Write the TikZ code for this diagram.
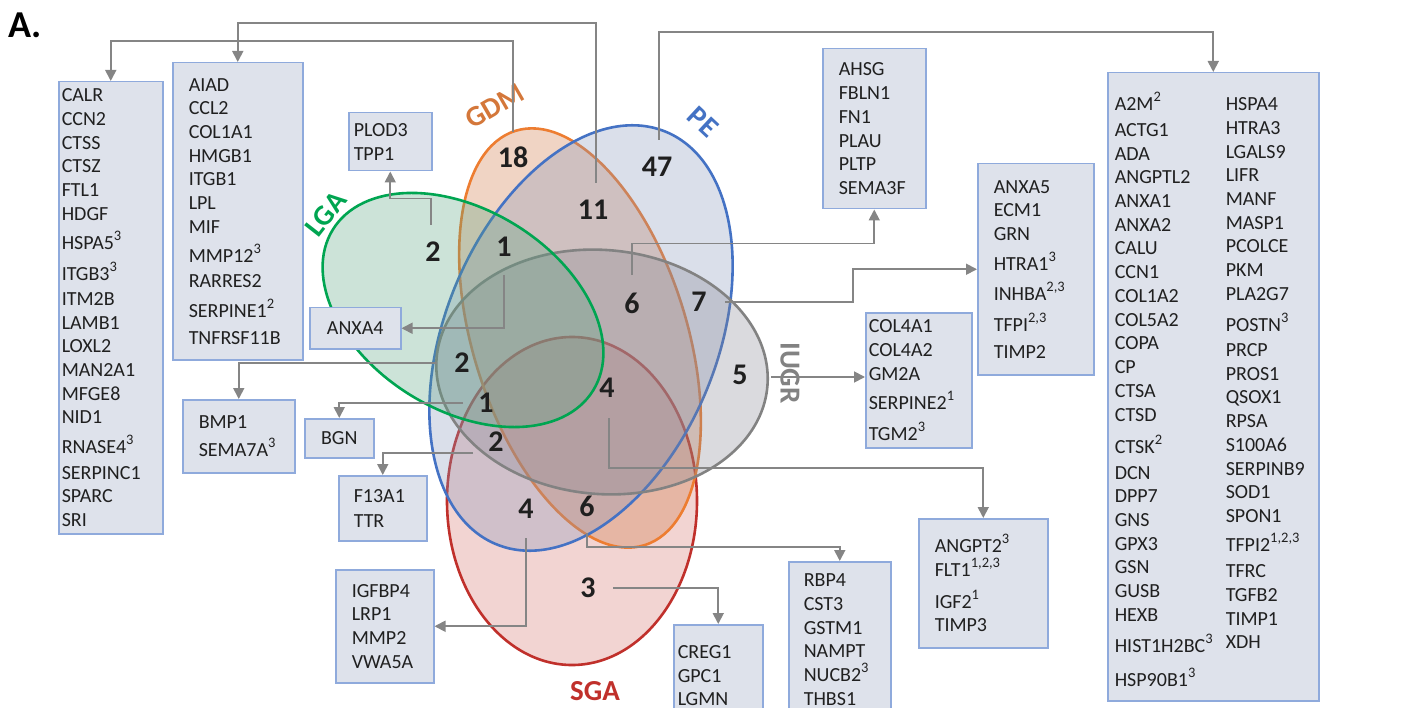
\documentclass[tikz,border=0pt]{standalone}
\usepackage{fontspec}
\setmainfont{Carlito}
\usepackage{xcolor}
\usepackage{tikz}
\usetikzlibrary{arrows.meta}

\definecolor{boxfill}{HTML}{DEE2EB}
\definecolor{boxline}{HTML}{8FAADC}
\definecolor{connline}{HTML}{858585}
\definecolor{genetext}{HTML}{202020}
\definecolor{lgagreen}{HTML}{00A551}
\definecolor{lgafill}{HTML}{57A37F}
\definecolor{gdmorange}{HTML}{ED7D31}
\definecolor{gdmfill}{HTML}{CD703A}
\definecolor{gdmtext}{HTML}{D4773A}
\definecolor{peblue}{HTML}{4472C4}
\definecolor{pefill}{HTML}{8494B9}
\definecolor{iugrgray}{HTML}{828282}
\definecolor{iugrfill}{HTML}{848491}
\definecolor{sgared}{HTML}{C0302B}
\definecolor{sgafill}{HTML}{D4706A}

\newcommand{\gsup}[1]{\raisebox{9pt}{\fontsize{14.5}{15}\selectfont #1}}
\newcommand{\genefont}{\fontsize{20}{23.7}\selectfont}

\begin{document}
\begin{tikzpicture}[
  x=1pt, y=-1pt,
  genebox/.style={draw=boxline, line width=1.5pt, fill=boxfill, anchor=north west,
                  align=left, inner ysep=0pt, text=genetext, font=\genefont},
  regnum/.style={inner sep=0pt, text=black!88, font=\fontsize{30}{32}\selectfont\bfseries},
  setlabel/.style={inner sep=0pt, font=\fontsize{29}{31}\selectfont\bfseries},
  venn/.style={line width=2.6pt, fill opacity=0.3},
  arrow/.style={draw=connline, line width=1.8pt, -{Triangle[length=11pt, width=11pt]}}
]
\useasboundingbox (0,0) rectangle (1404,708);

% panel letter
\node[inner sep=0pt, font=\fontsize{38}{40}\selectfont\bfseries] (panel) at (25,25) {A.};

% venn sets
\draw[venn, draw=sgared, fill=sgafill] (572,501) ellipse [x radius=125pt, y radius=164pt];
\draw[venn, draw=gdmorange, fill=gdmfill, rotate around={-72.7:(580,338)}] (580,338) ellipse [x radius=217pt, y radius=107pt];
\draw[venn, draw=peblue, fill=pefill, rotate around={67.7:(581,338)}] (581,338) ellipse [x radius=223pt, y radius=136pt];
\draw[venn, draw=iugrgray, fill=iugrfill, rotate around={-5:(602,372)}] (602,372) ellipse [x radius=166pt, y radius=122pt];
\draw[venn, draw=lgagreen, fill=lgafill, rotate around={-31.7:(463,310)}] (463,310) ellipse [x radius=153pt, y radius=100pt];

\node[setlabel, text=gdmtext, rotate=30] (gdm) at (495,106) {GDM};
\node[setlabel, text=peblue, rotate=-43] (pe) at (703,122) {PE};
\node[setlabel, text=lgagreen, rotate=52] (lga) at (326,214) {LGA};
\node[setlabel, text=iugrgray, rotate=-90] (iugr) at (790,373) {IUGR};
\node[setlabel, text=sgared] (sga) at (595,691) {SGA};

% region counts
\node[regnum] (n18) at (513,157) {18};
\node[regnum] (n11) at (593,210) {11};
\node[regnum] (n47) at (657,167) {47};
\node[regnum] (n2a) at (433,252) {2};
\node[regnum] (n1a) at (504,247) {1};
\node[regnum] (n6a) at (632,303) {6};
\node[regnum] (n7) at (699,302) {7};
\node[regnum] (n2b) at (462,363) {2};
\node[regnum] (n1b) at (486,403) {1};
\node[regnum] (n2c) at (496,442) {2};
\node[regnum] (n4a) at (607,388) {4};
\node[regnum] (n5) at (740,375) {5};
\node[regnum] (n4b) at (526,509) {4};
\node[regnum] (n6b) at (587,506) {6};
\node[regnum] (n3) at (588,588) {3};

% gene lists
\node[genebox, text width=98pt, inner xsep=3pt, minimum height=452pt] (calr) at (58,81)
  {CALR\\ CCN2\\ CTSS\\ CTSZ\\ FTL1\\ HDGF\\[6pt] HSPA5\gsup{3}\\[7pt] ITGB3\gsup{3}\\[1pt] ITM2B\\ LAMB1\\ LOXL2\\ MAN2A1\\ MFGE8\\ NID1\\[6pt] RNASE4\gsup{3}\\[2pt] SERPINC1\\ SPARC\\ SRI};
\node[genebox, text width=98pt, inner xsep=16pt, minimum height=297pt] (aiad) at (172,62)
  {AIAD\\ CCL2\\ COL1A1\\ HMGB1\\ ITGB1\\ LPL\\ MIF\\[6pt] MMP12\gsup{3}\\[1pt] RARRES2\\[6pt] SERPINE1\gsup{2}\\[3pt] TNFRSF11B};
\node[genebox, text width=73pt, inner xsep=5pt, minimum height=58pt] (plod3) at (348,112)
  {PLOD3\\ TPP1};
\node[genebox, text width=91pt, inner xsep=0pt, align=center, minimum height=41pt] (anxa4) at (309,307)
  {ANXA4};
\node[genebox, text width=80pt, inner xsep=16pt, minimum height=73pt] (bmp1) at (182,399)
  {BMP1\\[5pt] SEMA7A\gsup{3}};
\node[genebox, text width=69pt, inner xsep=0pt, align=center, minimum height=39pt] (bgn) at (304,418)
  {BGN};
\node[genebox, text width=58pt, inner xsep=15pt, minimum height=65pt] (f13a1) at (338,475)
  {F13A1\\[1pt] TTR};
\node[genebox, text width=66pt, inner xsep=16pt, minimum height=113pt] (igfbp4) at (335,569)
  {IGFBP4\\ LRP1\\ MMP2\\ VWA5A};
\node[genebox, text width=81pt, inner xsep=4pt, minimum height=102pt] (creg1) at (673,624)
  {CREG1\\ GPC1\\ LGMN};
\node[genebox, text width=72pt, inner xsep=15pt, minimum height=156pt] (rbp4) at (788,561)
  {RBP4\\ CST3\\ GSTM1\\ NAMPT\\ NUCB2\gsup{3}\\ THBS1};
\node[genebox, text width=97pt, inner xsep=16pt, minimum height=129pt] (angpt2) at (918,518)
  {ANGPT2\gsup{3}\\ FLT1\gsup{1,2,3}\\[8pt] IGF2\gsup{1}\\ TIMP3};
\node[genebox, text width=71pt, inner xsep=16pt, minimum height=160pt] (ahsg) at (822,48)
  {AHSG\\ FBLN1\\ FN1\\ PLAU\\ PLTP\\ SEMA3F};
\node[genebox, text width=84pt, inner xsep=16pt, minimum height=211pt] (anxa5) at (977,163)
  {ANXA5\\ ECM1\\ GRN\\[6pt] HTRA1\gsup{3}\\[7pt] INHBA\gsup{2,3}\\[7pt] TFPI\gsup{2,3}\\[3pt] TIMP2};
\node[genebox, text width=100pt, inner xsep=3pt, minimum height=135pt] (col4a1) at (865,312)
  {COL4A1\\ COL4A2\\ GM2A\\[6pt] SERPINE2\gsup{1}\\[7pt] TGM2\gsup{3}};
\node[genebox, text width=197pt, inner xsep=7pt, text height=38pt, text depth=590pt] (a2m) at (1107,72)
  {\begin{tabular}[t]{@{}p{111pt}@{}}
    A2M\gsup{2}\\[2pt] ACTG1\\ ADA\\ ANGPTL2\\ ANXA1\\ ANXA2\\ CALU\\ CCN1\\ COL1A2\\ COL5A2\\
    COPA\\ CP\\ CTSA\\[1pt] CTSD\\[6pt] CTSK\gsup{2}\\[2pt] DCN\\ DPP7\\ GNS\\ GPX3\\ GSN\\
    GUSB\\ HEXB\\[6pt] HIST1H2BC\gsup{3}\\[8pt] HSP90B1\gsup{3}
   \end{tabular}%
   \begin{tabular}[t]{@{}l@{}}
    HSPA4\\ HTRA3\\ LGALS9\\ LIFR\\ MANF\\ MASP1\\ PCOLCE\\ PKM\\ PLA2G7\\[6pt] POSTN\gsup{3}\\[1pt]
    PRCP\\ PROS1\\ QSOX1\\ RPSA\\ S100A6\\ SERPINB9\\ SOD1\\ SPON1\\[4pt] TFPI2\gsup{1,2,3}\\[2pt]
    TFRC\\ TGFB2\\ TIMP1\\ XDH
   \end{tabular}};

% connectors
\draw[arrow] ([yshift=25pt]n18.center) |- ([yshift=40pt]calr.north) -- (calr.north);
\draw[arrow] ([xshift=3pt,yshift=27pt]n11.center) |- ([yshift=39pt]aiad.north) -- (aiad.north);
\draw[arrow] ([xshift=2pt,yshift=27pt]n47.center) |- ([yshift=40pt]a2m.north) -- (a2m.north);
\draw[arrow] ([xshift=-2pt,yshift=27pt]n2a.center) |- ([yshift=-27pt]plod3.south) -- (plod3.south);
\draw[arrow] ([yshift=-28pt]n1a.center) |- (anxa4.east);
\draw[arrow] ([xshift=-25pt]n2b.center) -| (bmp1.north);
\draw[arrow] ([xshift=-23pt]n1b.center) -| (bgn.north);
\draw[arrow] ([xshift=-23pt,yshift=-11pt]n2c.center) -| (f13a1.north);
\draw[arrow] ([yshift=-29pt]n4b.center) |- (igfbp4.east);
\draw[arrow] ([xshift=25pt]n3.center) -| (creg1.north);
\draw[arrow] ([yshift=-27pt]n6b.center) |- ([yshift=14pt]rbp4.north) -- (rbp4.north);
\draw[arrow] ([xshift=2pt,yshift=-30pt]n4a.center) |- ([yshift=50pt]angpt2.north) -- (angpt2.north);
\draw[arrow] ([yshift=28pt]n6a.center) |- ([yshift=-34pt]ahsg.south) -- (ahsg.south);
\draw[arrow] ([xshift=26pt]n7.center) -- ++(128,0) |- (anxa5.west);
\coordinate (s5) at ([xshift=31pt,yshift=-2pt]n5.center);
\draw[arrow] (s5) -- (s5 -| col4a1.west);
\end{tikzpicture}
\end{document}
